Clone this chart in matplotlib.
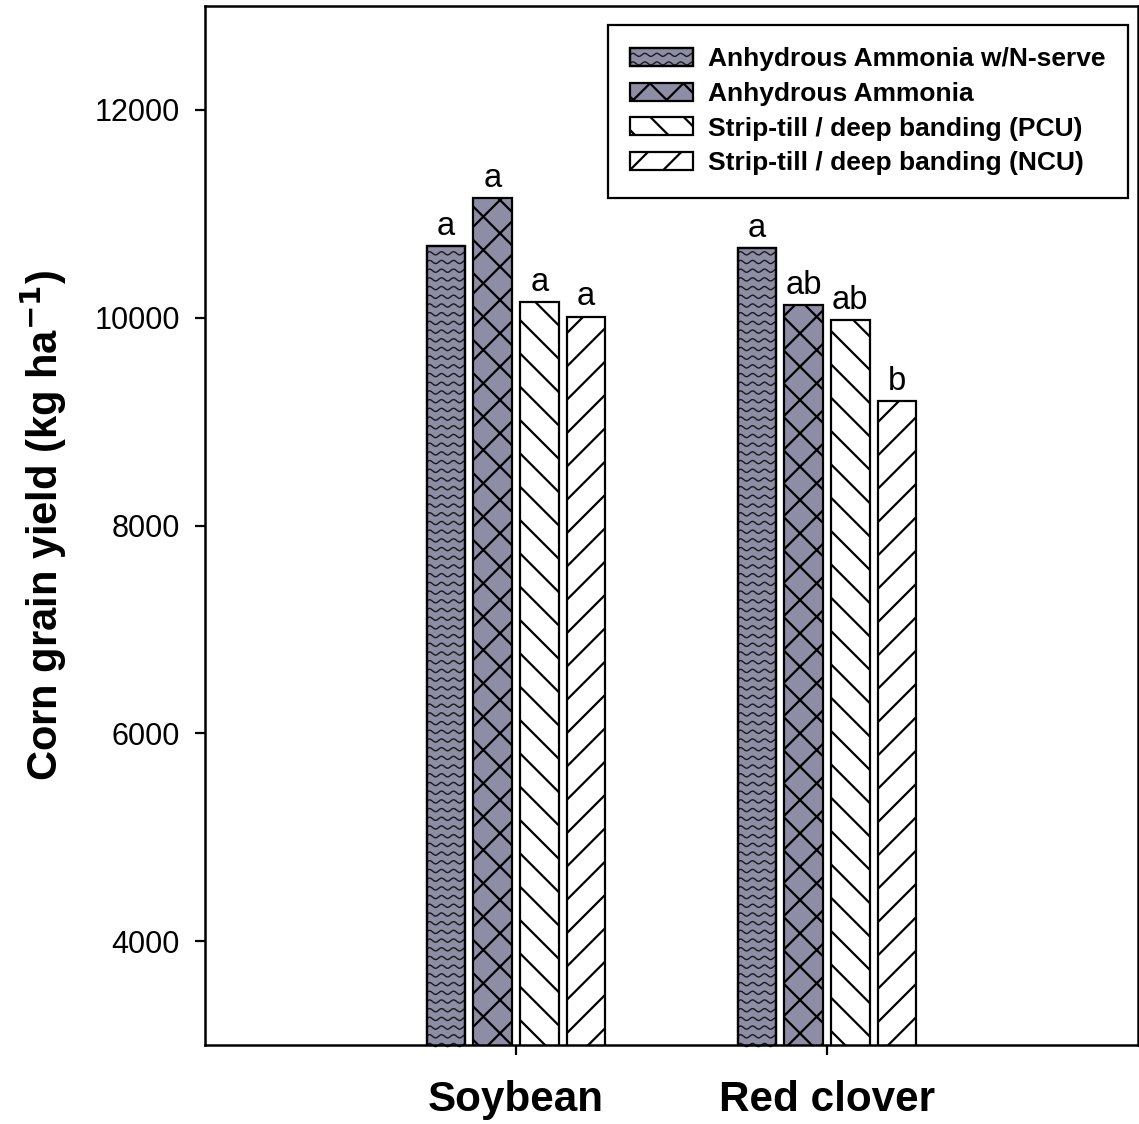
import numpy as np
import matplotlib
matplotlib.use('Agg')
import matplotlib.pyplot as plt
from matplotlib.patches import Rectangle
from matplotlib.lines import Line2D
from matplotlib.legend_handler import HandlerPatch

# ---------------- data ----------------
categories = ['Soybean', 'Red clover']
treatments = ['Anhydrous Ammonia w/N-serve', 'Anhydrous Ammonia',
              'Strip-till / deep banding (PCU)', 'Strip-till / deep banding (NCU)']
yield_soybean = [10690, 11150, 10150, 10010]
yield_redclover = [10670, 10120, 9980, 9200]
letters_soybean = ['a', 'a', 'a', 'a']
letters_redclover = ['a', 'ab', 'ab', 'b']
y_ticks = [4000, 6000, 8000, 10000, 12000]

# ---------------- style ----------------
DPI = 200
plt.rcParams['font.family'] = ['Liberation Sans', 'DejaVu Sans']
plt.rcParams['hatch.linewidth'] = 0.8
GRAY = '#8d8da6'
fills = [GRAY, GRAY, 'white', 'white']
hatches = [None, 'xx', '\\\\', '//']

fig = plt.figure(figsize=(1139 / DPI, 1124 / DPI), dpi=DPI)
ax = fig.add_axes([205 / 1139, 1 - 1045 / 1124, (1138 - 205) / 1139, (1045 - 6) / 1124])

x = np.arange(1, len(categories) + 1)
pitch = 0.15
width = 0.125
ax.set_xlim(0, 3)
ax.set_ylim(3000, 13000)

bar_containers = []
for i, name in enumerate(treatments):
    vals = [yield_soybean[i], yield_redclover[i]]
    bc = ax.bar(x + (i - 1.5) * pitch, vals, width, bottom=0,
                color=fills[i], edgecolor='black', linewidth=0.8,
                hatch=hatches[i], label=name, zorder=2)
    bar_containers.append(bc)
    labs = [letters_soybean[i], letters_redclover[i]]
    for rect, lab in zip(bc, labs):
        ax.annotate(lab, (rect.get_x() + rect.get_width() / 2, rect.get_height()),
                    xytext=(0, 1.5), textcoords='offset points',
                    ha='center', va='bottom', fontsize=11.8)

# wavy pattern for the first series (clipped to each bar)
def add_waves(rect):
    t = ax.transData
    (px0, py0) = t.transform((rect.get_x(), 3000))
    (px1, py1) = t.transform((rect.get_x() + rect.get_width(), rect.get_height()))
    inv = t.inverted()
    spacing, wl, amp = 8.7, 12.0, 1.6
    xs = np.linspace(px0 - 2, px1 + 2, 200)
    yrow = py0
    while yrow < py1 + spacing:
        ys = yrow + amp * np.sin(2 * np.pi * (xs - px0) / wl)
        pts = inv.transform(np.column_stack([xs, ys]))
        ln = Line2D(pts[:, 0], pts[:, 1], color='#1a1a1a', lw=0.5, zorder=2.5)
        ax.add_line(ln)
        ln.set_clip_path(rect)
        yrow += spacing

for rect in bar_containers[0]:
    add_waves(rect)
# redraw edges on top
for rect in bar_containers[0]:
    ax.add_patch(Rectangle((rect.get_x(), rect.get_y()), rect.get_width(), rect.get_height(),
                           fill=False, edgecolor='black', linewidth=0.8, zorder=3))


class HandlerWave(HandlerPatch):
    def create_artists(self, legend, orig_handle, xdescent, ydescent, width, height,
                       fontsize, trans):
        r = Rectangle((-xdescent, -ydescent), width, height, facecolor=GRAY,
                      edgecolor='black', lw=0.8, transform=trans)
        arts = [r]
        xs = np.linspace(-xdescent, -xdescent + width, 200)
        spacing, wl, amp = 3.1, 4.3, 0.55
        yrow = -ydescent + 1.0
        while yrow < -ydescent + height:
            ys = yrow + amp * np.sin(2 * np.pi * xs / wl)
            ln = Line2D(xs, ys, color='#1a1a1a', lw=0.5, transform=trans)
            ln.set_clip_path(r)
            arts.append(ln)
            yrow += spacing
        edge = Rectangle((-xdescent, -ydescent), width, height, fill=False,
                         edgecolor='black', lw=0.8, transform=trans)
        arts.append(edge)
        return arts


handles = [bc.patches[0] for bc in bar_containers]
leg = ax.legend(handles, treatments, loc='upper right',
                bbox_to_anchor=((1128 - 205) / 933, (1045 - 25) / 1039),
                prop={'weight': 'bold', 'size': 9.5},
                handlelength=2.39, handleheight=0.68, labelspacing=0.4,
                handletextpad=0.57, borderpad=0.85, borderaxespad=0,
                fancybox=False, framealpha=1, edgecolor='black',
                handler_map={handles[0]: HandlerWave()})
leg.get_frame().set_linewidth(0.8)

# axes styling
for s in ax.spines.values():
    s.set_linewidth(0.9)
ax.set_yticks(y_ticks)
ax.set_yticklabels([str(v) for v in y_ticks])
ax.set_xticks(x)
ax.set_xticklabels(categories, fontsize=15.2, fontweight='bold')
ax.tick_params(axis='y', direction='out', length=3.5, width=0.8, labelsize=11, pad=5.5)
ax.tick_params(axis='x', direction='out', length=3.5, width=0.8, pad=9)
ax.set_ylabel('Corn grain yield (kg ha$^{\\mathbf{-1}}$)', fontsize=15, fontweight='bold', labelpad=9)

fig.savefig('out.png', dpi=DPI)
